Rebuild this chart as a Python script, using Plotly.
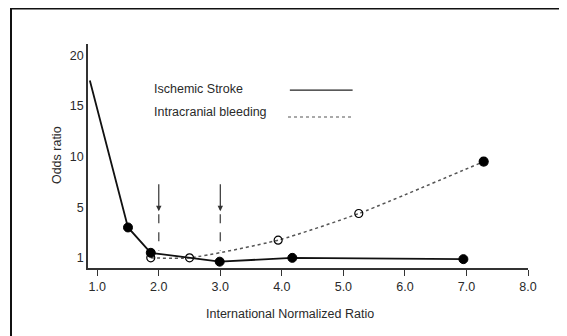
import plotly.graph_objects as go

# ---- data ----
ischemic_inr = [0.88, 1.5, 1.87, 2.99, 4.17, 6.95]
ischemic_or = [17.5, 3.4, 1.4, 0.7, 1.0, 0.9]

bleeding_inr = [1.87, 2.5, 3.94, 5.25, 7.28]
bleeding_or = [1.0, 1.0, 2.4, 4.5, 9.5]

y_tick_values = [1, 5, 10, 15, 20]
x_tick_values = [1.0, 2.0, 3.0, 4.0, 5.0, 6.0, 7.0, 8.0]
arrow_inr = [2.0, 3.0]

legend_labels = ["Ischemic Stroke", "Intracranial bleeding"]


# The original axis is stretched below 5 (the "1" tick sits at the base).
def to_axis(v):
    return v if v >= 5 else 5 - (5 - v) * 1.25


FONT = "Liberation Sans, Arial, sans-serif"
INK = "#2a2a2a"
FS = 12.5

fig = go.Figure()

fig.add_trace(go.Scatter(
    x=bleeding_inr, y=[to_axis(v) for v in bleeding_or],
    mode="lines+markers",
    line=dict(color="#555555", width=1.5, dash="dot", shape="spline", smoothing=0.6),
    marker=dict(symbol=["circle-open"] * (len(bleeding_inr) - 1) + ["circle"],
                size=[8] * (len(bleeding_inr) - 1) + [9],
                color="#000000", opacity=1, line=dict(width=1.2, color="#000000")),
    showlegend=False,
))

fig.add_trace(go.Scatter(
    x=ischemic_inr, y=[to_axis(v) for v in ischemic_or],
    mode="lines+markers",
    line=dict(color="#111111", width=1.8),
    marker=dict(symbol="circle", size=[0] + [9] * (len(ischemic_inr) - 1),
                color="#000000", opacity=1, line=dict(width=1, color="#000000")),
    showlegend=False,
))

# Arrows with dashed drop lines at INR 2.0 and 3.0
for xa in arrow_inr:
    fig.add_annotation(x=xa, y=4.6, ax=xa, ay=7.4, xref="x", yref="y", axref="x", ayref="y",
                       showarrow=True, arrowhead=2, arrowsize=0.9, arrowwidth=1.2,
                       arrowcolor="#333333", text="")
    fig.add_shape(type="line", x0=xa, x1=xa, y0=4.3, y1=0.7, xref="x", yref="y",
                  line=dict(color="#555555", width=1.4, dash="dash"))

# Legend drawn as text + line samples
fig.add_annotation(x=1.89, y=16.65, xref="x", yref="y", text=legend_labels[0], showarrow=False,
                   xanchor="left", font=dict(family=FONT, size=FS, color=INK))
fig.add_annotation(x=1.89, y=14.4, xref="x", yref="y", text=legend_labels[1], showarrow=False,
                   xanchor="left", font=dict(family=FONT, size=FS, color=INK))
fig.add_shape(type="line", x0=4.13, x1=5.15, y0=16.55, y1=16.55, xref="x", yref="y",
              line=dict(color="#222222", width=1.2))
fig.add_shape(type="line", x0=4.1, x1=5.13, y0=13.9, y1=13.9, xref="x", yref="y",
              line=dict(color="#555555", width=1.2, dash="dot"))

# Axis titles
fig.add_annotation(x=0.459, y=-0.205, xref="paper", yref="paper", showarrow=False,
                   text="International Normalized Ratio", xanchor="center", yanchor="middle",
                   font=dict(family=FONT, size=FS, color=INK))
fig.add_annotation(x=-0.0705, y=0.504, xref="paper", yref="paper", showarrow=False,
                   text="Odds ratio", textangle=-90, xanchor="center", yanchor="middle",
                   font=dict(family=FONT, size=FS, color=INK))

# Outer frame (left and top edges visible)
fig.add_shape(type="rect", xref="paper", yref="paper", x0=-0.175, x1=1.3, y0=-0.6, y1=1.158,
              line=dict(color="#111111", width=2), layer="below")

fig.update_layout(
    width=559, height=328,
    margin=dict(l=80, r=39, t=36, b=68),
    paper_bgcolor="white", plot_bgcolor="white",
    font=dict(family=FONT, size=FS, color=INK),
    showlegend=False,
)

fig.update_xaxes(
    range=[0.85, 8.0], showgrid=False, zeroline=False,
    showline=True, linecolor="#333333", linewidth=1.5,
    ticks="outside", ticklen=6, tickwidth=1.2, tickcolor="#333333",
    tickvals=x_tick_values, ticktext=[f"{v:.1f}" for v in x_tick_values],
    tickfont=dict(family=FONT, size=FS, color=INK),
)
fig.update_yaxes(
    range=[-1, 21.1], showgrid=False, zeroline=False,
    showline=True, linecolor="#333333", linewidth=1.5,
    ticks="", ticklen=0,
    tickvals=[to_axis(v) for v in y_tick_values], ticktext=[str(v) for v in y_tick_values],
    tickfont=dict(family=FONT, size=FS, color=INK),
)

fig.write_html("out.html")
